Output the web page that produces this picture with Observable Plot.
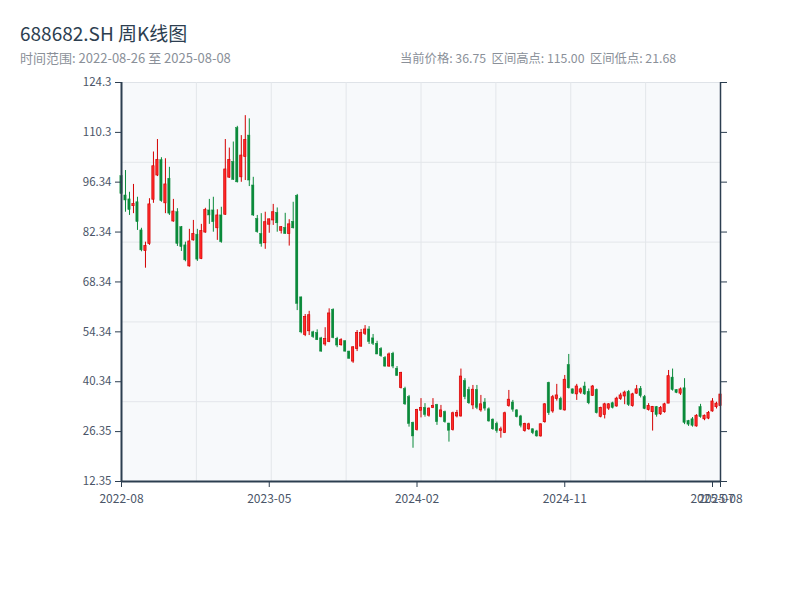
<!DOCTYPE html>
<html><head><meta charset="utf-8">
<script src="https://cdn.jsdelivr.net/npm/d3@7"></script>
<script src="https://cdn.jsdelivr.net/npm/@observablehq/plot@0.6"></script>
<style>
body{margin:0;background:#fff;font-family:"Noto Sans CJK SC","Noto Sans",sans-serif;}
#wrap{position:relative;width:800px;height:600px;overflow:hidden;}
#title{position:absolute;left:20px;top:21px;font-size:19px;color:#2c3e50;line-height:24px;white-space:nowrap;}
#sub{position:absolute;left:20px;top:50px;font-size:13px;color:#8a9099;line-height:16px;white-space:nowrap;}
#info{position:absolute;left:400px;top:50px;font-size:12.3px;color:#8a9099;line-height:16px;white-space:pre;}
#chart{position:absolute;left:0;top:70px;}
</style></head>
<body>
<div id="wrap">
  <div id="title">688682.SH 周K线图</div>
  <div id="sub">时间范围: 2022-08-26 至 2025-08-08</div>
  <div id="info">当前价格: 36.75  区间高点: 115.00  区间低点: 21.68</div>
  <div id="chart"></div>
</div>
<script>
const opens = [98.0,92.6,91.5,89.6,90.7,82.8,77.0,79.0,91.4,98.2,
102.5,90.4,97.3,85.3,87.9,83.7,78.6,72.7,80.0,81.6,
74.8,82.2,88.4,88.4,83.4,87.0,87.2,97.6,102.0,111.5,
97.7,103.4,109.4,95.4,86.0,81.8,79.2,84.4,85.6,87.7,
82.7,83.5,81.8,85.2,92.5,64.0,53.5,54.5,54.2,54.0,
52.5,50.8,51.5,60.5,52.4,50.6,51.7,48.8,46.0,49.5,
50.2,53.8,55.0,52.5,51.0,49.5,47.0,44.6,48.2,44.0,
38.6,38.3,36.0,28.8,26.8,32.2,33.0,30.8,33.0,33.8,
30.5,31.8,28.6,26.8,30.6,30.6,40.5,38.0,33.7,38.0,
32.3,34.5,32.6,29.7,28.5,26.5,26.0,33.5,34.5,32.3,
30.6,26.5,27.0,27.0,26.4,25.0,29.0,40.0,32.0,35.5,
35.5,32.3,45.0,38.2,36.8,37.3,39.0,37.5,36.4,38.0,
30.5,31.0,32.8,34.3,33.4,35.5,36.2,37.5,33.5,37.0,
38.3,36.0,32.4,31.8,33.2,31.2,31.8,34.2,41.5,38.0,
37.0,38.5,29.3,29.8,27.8,33.2,29.8,30.0,32.0,33.2,
33.5];
const highs = [99.3,99.6,93.5,95.7,92.1,83.4,79.5,91.7,104.8,108.3,
103.2,102.9,100.5,91.5,88.9,83.9,79.5,83.1,85.6,83.1,
84.5,89.0,91.5,92.1,88.6,89.3,108.3,105.9,107.6,112.0,
109.4,115.0,114.1,97.7,87.0,87.5,87.9,86.0,90.1,89.1,
83.9,87.6,85.8,90.7,92.9,64.1,59.2,60.1,54.5,54.9,
52.8,55.5,60.8,60.8,52.8,52.4,51.9,48.9,50.2,54.7,
55.0,56.1,55.8,53.6,51.7,49.9,47.4,48.4,48.6,44.6,
43.0,38.8,36.5,29.0,32.6,35.6,34.2,33.0,35.6,34.0,
33.7,32.1,28.7,31.8,32.3,43.9,41.2,38.8,39.3,39.3,
36.5,35.6,33.0,29.9,29.0,27.6,31.8,37.9,35.1,32.5,
30.9,28.7,28.7,27.1,26.7,28.5,34.2,40.2,36.5,39.6,
36.0,42.1,48.0,38.3,39.6,38.6,40.2,38.3,39.3,38.3,
33.2,34.3,34.2,34.6,36.0,37.1,37.7,37.9,37.1,39.3,
39.0,36.5,34.2,33.4,33.4,33.4,34.3,43.5,43.9,38.1,
38.6,41.2,29.5,30.3,31.1,34.0,31.0,32.0,35.6,34.6,
39.3];
const lows = [92.3,87.9,87.0,87.5,82.8,76.8,72.2,78.6,90.4,97.9,
90.7,87.5,87.0,85.1,78.3,76.9,74.0,72.5,79.8,74.1,
74.6,82.0,84.5,82.3,80.0,79.2,87.0,97.4,96.8,96.1,
96.3,96.8,95.1,86.7,82.0,78.1,77.5,82.0,84.2,82.3,
81.8,81.7,78.4,83.2,60.3,53.8,53.0,53.3,52.5,51.9,
48.6,50.3,51.3,52.4,49.9,50.3,48.6,46.6,45.5,48.8,
50.0,53.3,50.8,50.5,47.9,47.2,44.4,44.4,44.0,41.8,
38.3,33.7,27.6,21.68,26.5,30.2,30.4,30.4,32.8,28.1,
30.2,28.7,23.4,26.5,30.2,30.4,35.3,34.0,32.5,32.5,
31.8,32.1,29.0,26.7,25.9,24.5,25.8,33.2,31.8,30.2,
27.4,26.2,26.7,25.5,24.8,24.8,28.7,30.9,31.5,34.9,
32.3,32.1,38.3,36.8,35.1,36.8,36.5,33.9,36.2,31.3,
30.2,29.9,32.3,32.7,33.2,35.1,33.9,33.4,33.2,36.8,
35.8,32.5,32.1,26.5,30.4,30.9,31.5,34.2,37.7,37.0,
36.5,28.3,27.8,27.6,27.6,30.1,29.4,29.7,31.8,32.7,
32.8];
const closes = [93.0,91.2,88.5,90.2,85.1,77.2,78.4,90.1,100.8,102.6,
91.0,95.7,87.5,88.1,79.0,78.1,74.4,79.7,81.8,74.6,
82.6,88.5,87.0,85.1,87.0,79.5,99.9,102.6,97.0,96.3,
103.8,108.2,96.8,87.0,82.3,79.0,85.1,85.9,87.9,84.8,
83.7,81.8,84.5,83.4,62.2,54.2,58.5,59.0,52.9,52.0,
48.8,52.3,59.5,52.6,50.5,52.0,48.8,46.8,50.0,54.0,
54.0,55.0,51.5,51.0,48.0,47.5,44.6,48.0,44.6,42.0,
42.8,34.0,28.5,25.0,32.4,33.0,31.0,32.8,33.5,29.0,
32.3,29.0,26.6,31.5,31.6,41.8,36.0,34.3,38.1,33.0,
34.0,32.8,29.2,27.0,26.5,27.0,31.5,35.3,32.5,30.4,
28.0,28.5,28.4,25.9,25.0,28.4,34.0,31.5,36.0,36.5,
32.5,40.9,38.5,37.0,39.0,38.2,36.8,34.3,39.0,31.5,
33.0,34.0,34.0,33.0,35.6,36.5,37.3,33.8,36.8,38.2,
36.3,32.7,33.5,33.3,31.0,33.0,34.0,41.9,38.0,37.2,
38.2,28.8,28.3,28.0,30.8,30.4,30.8,31.6,34.8,34.2,
36.75];
const xTickIdx = [0, 37, 74, 111, 148, 150];
const xTickLabels = ["2022-08","2023-05","2024-02","2024-11","2025-07","2025-08"];
const yTickLabels = [12.35, 26.35, 40.34, 54.34, 68.34, 82.34, 96.34, 110.3, 124.3];

const data = opens.map((o, i) => ({i, o, h: highs[i], l: lows[i], c: closes[i], up: closes[i] >= o}));
const ups = data.filter(d => d.up), downs = data.filter(d => !d.up);
const yDomain = [yTickLabels[0], yTickLabels[yTickLabels.length - 1]];
const xDomain = [0, data.length - 1];
const yGrid = d3.range(1, 5).map(k => yDomain[0] + k * (yDomain[1] - yDomain[0]) / 5);
const xGrid = d3.range(1, 8).map(k => xDomain[0] + k * (xDomain[1] - xDomain[0]) / 8);
const RED = "#d40000", REDF = "#ff2a2a", GREEN = "#0a8a3a", AX = "#2c3e50";
const hw = 0.28;

const chart = Plot.plot({
  width: 800, height: 450,
  marginLeft: 121, marginRight: 80, marginTop: 12, marginBottom: 39,
  x: {domain: xDomain, label: null},
  y: {domain: yDomain, label: null},
  style: {fontFamily: "'Noto Sans CJK SC','Noto Sans',sans-serif", fontSize: "11.5px", background: "transparent"},
  marks: [
    Plot.frame({fill: "#f7f9fb", stroke: "#dfe3e8"}),
    Plot.gridY(yGrid, {stroke: "#e3e6ea", strokeOpacity: 1}),
    Plot.gridX(xGrid, {stroke: "#e3e6ea", strokeOpacity: 1}),
    Plot.ruleX(downs, {x: "i", y1: "l", y2: "h", stroke: GREEN, strokeWidth: 1}),
    Plot.ruleX(ups, {x: "i", y1: "l", y2: "h", stroke: RED, strokeWidth: 1}),
    Plot.rect(downs, {x1: d => d.i - hw, x2: d => d.i + hw, y1: "o", y2: "c", fill: GREEN, stroke: GREEN, strokeWidth: 0.5}),
    Plot.rect(ups, {x1: d => d.i - hw, x2: d => d.i + hw, y1: "o", y2: "c", fill: REDF, stroke: RED, strokeWidth: 0.7}),
    Plot.axisY(yTickLabels, {anchor: "left", tickSize: 6, tickPadding: 4, stroke: AX, fill: "#4a5568", tickFormat: d => String(d)}),
    Plot.axisY(yTickLabels, {anchor: "right", tickSize: 6, stroke: AX, tickFormat: () => ""}),
    Plot.axisX(xTickIdx, {anchor: "bottom", tickSize: 6, tickPadding: 7, stroke: AX, fill: "#4a5568", fontSize: 12, tickFormat: d => xTickLabels[xTickIdx.indexOf(d)]}),
    Plot.ruleX([xDomain[0]], {stroke: AX, strokeWidth: 2}),
    Plot.ruleX([xDomain[1]], {stroke: AX, strokeWidth: 1.5}),
    Plot.ruleY([yDomain[0]], {stroke: AX, strokeWidth: 2})
  ]
});
document.getElementById("chart").appendChild(chart);
</script>
</body></html>
